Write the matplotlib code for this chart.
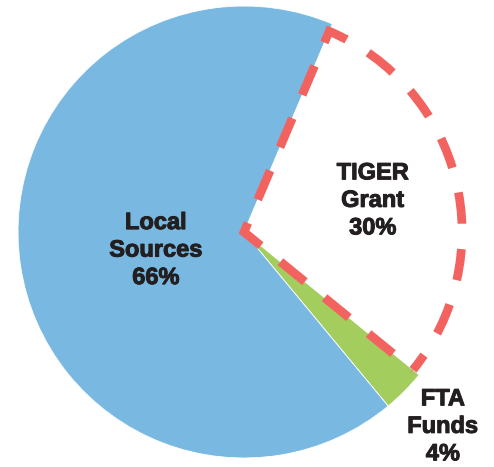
import matplotlib.pyplot as plt
import matplotlib.patheffects as pe

# shares; labels show the published percentages
labels = ['TIGER\nGrant\n30%', 'FTA\nFunds\n4%', 'Local\nSources\n66%']
shares = [29.5, 3.1, 67.4]
colors = ['white', '#A3CD5C', '#79B9E1']

fig = plt.figure(figsize=(4.94, 4.67), dpi=100)
ax = fig.add_axes([(244 - 226) / 494, (235 - 226) / 467, 452 / 494, 452 / 467])

wedges, _ = ax.pie(shares, colors=colors, startangle=67, counterclock=False,
                   radius=1, wedgeprops=dict(edgecolor='white', linewidth=0.6))

# the grant slice gets a dashed red outline
tiger = wedges[0]
tiger.set_radius(0.965)
tiger.set_edgecolor('#F2625F')
tiger.set_linewidth(6.3)
tiger.set_linestyle((1.5, (3.6, 2.9)))
tiger.set_capstyle('butt')
tiger.set_joinstyle('miter')
tiger.set_zorder(3)

# heavier strokes to get closer to the original's black-weight type
bold = [pe.withStroke(linewidth=0.7, foreground='#231F20')]
txt = dict(ha='center', va='center', fontsize=17, fontweight='bold',
           color='#231F20', family='Liberation Sans', linespacing=1.25,
           path_effects=bold)
ax.text(0.57, 0.14, labels[0], **txt)
ax.text(0.88, -0.86, labels[1], **txt)
ax.text(-0.39, -0.08, labels[2], **txt)

ax.set_xlim(-1, 1)
ax.set_ylim(-1, 1)
ax.set_aspect('equal')
ax.axis('off')

fig.savefig('out.png', dpi=100)
